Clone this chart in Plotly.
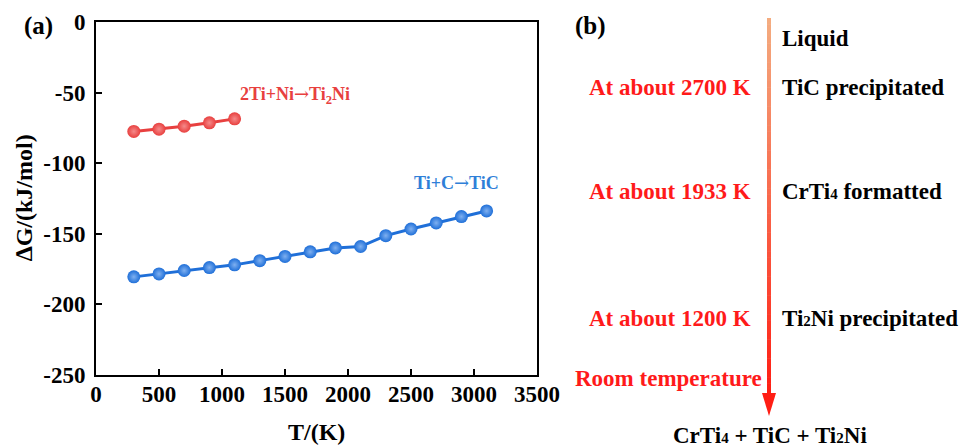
import plotly.graph_objects as go

# ---------------- data ----------------
T_ti2ni = [300, 500, 700, 900, 1100]
G_ti2ni = [-77.5, -75.9, -73.8, -71.4, -68.6]

T_tic = [300, 500, 700, 900, 1100, 1300, 1500, 1700, 1900, 2100, 2300, 2500, 2700, 2900, 3100]
G_tic = [-180.5, -178.4, -176.0, -173.9, -172.0, -169.0, -166.0, -162.8, -160.0, -159.0,
         -151.3, -146.6, -142.3, -137.8, -133.8]

x_ticks = [0, 500, 1000, 1500, 2000, 2500, 3000, 3500]
x_ticktext = ["0", "500", "1000", "1500", "2000", "2500", "3000", "3500"]
y_ticks = [0, -50, -100, -150, -200, -250]
y_ticktext = ["0", "-50", "-100", "-150", "-200", "-250"]

ARROW = "<span style='font-family:DejaVu Serif;font-weight:normal;font-size:18px'>→</span>"
label_ti2ni = "2Ti+Ni" + ARROW + "Ti<sub>2</sub>Ni"
label_tic = "Ti+C" + ARROW + "TiC"

# panel (b) texts
stage_temps = ["At about 2700 K", "At about 1933 K", "At about 1200 K"]
stage_events = ["TiC precipitated",
                "CrTi<span style='font-size:15px'>4</span> formatted",
                "Ti<span style='font-size:15px'>2</span>Ni precipitated"]
start_label = "Liquid"
end_left_label = "Room temperature"
final_label = ("CrTi<span style='font-size:15px'>4</span> + TiC + "
               "Ti<span style='font-size:15px'>2</span>Ni")

# ---------------- layout helpers ----------------
W, H = 962, 448
def px(x):
    return x / W
def py(y):
    return 1 - y / H

FONT = "Liberation Serif, Times New Roman, serif"
RED = "#e8403f"
BLUE = "#1f6fd8"

fig = go.Figure()

fig.add_trace(go.Scatter(
    x=T_ti2ni, y=G_ti2ni, mode="lines+markers",
    line=dict(color=RED, width=3),
    marker=dict(size=13, color=RED, gradient=dict(type="radial", color="#f58a8a")),
    showlegend=False))
fig.add_trace(go.Scatter(
    x=T_tic, y=G_tic, mode="lines+markers",
    line=dict(color=BLUE, width=3),
    marker=dict(size=13, color=BLUE, gradient=dict(type="radial", color="#7fb0f0")),
    showlegend=False))

axis_common = dict(
    showline=True, linecolor="black", linewidth=2, mirror=True,
    ticks="inside", ticklen=6, tickwidth=2, tickcolor="black",
    showgrid=False, zeroline=False, automargin=False,
    tickfont=dict(family=FONT, size=23, color="black", weight="bold"),
)

fig.update_layout(
    width=W, height=H,
    margin=dict(l=0, r=0, t=0, b=0, pad=0, autoexpand=False),
    paper_bgcolor="white", plot_bgcolor="white",
    font=dict(family=FONT, color="black"),
    xaxis=dict(domain=[px(96), px(537)], range=[0, 3500], tickvals=x_ticks,
               ticktext=x_ticktext, ticklabelstandoff=-3, **axis_common),
    yaxis=dict(domain=[py(375), py(22)], range=[-250, 0], tickvals=y_ticks,
               ticktext=y_ticktext, ticklabelstandoff=4, **axis_common),
)

ann = []
def add_text(text, x, y, size=22, color="black", xanchor="center", yanchor="middle", textangle=0):
    ann.append(dict(text=text, x=px(x), y=py(y), xref="paper", yref="paper",
                    xanchor=xanchor, yanchor=yanchor, showarrow=False, textangle=textangle,
                    font=dict(family=FONT, size=size, color=color, weight="bold")))

# panel labels
add_text("(a)", 38, 26, size=25)
add_text("(b)", 590, 26, size=25)

# axis titles
add_text("T/(K)", 316, 432, size=24)
add_text("∆G/(kJ/mol)", 24, 198, size=24, textangle=-90)

# series labels
add_text(label_ti2ni, 295, 95, size=18, color=RED)
add_text(label_tic, 456, 183, size=18, color="#2f7fd8")

# panel b
ARROW_X = 769
add_text(start_label, 780, 38, size=23, xanchor="left")
stage_y = [87, 191, 318]
for t, e, yy in zip(stage_temps, stage_events, stage_y):
    add_text(t, 753, yy, size=23, color="#ff1a1a", xanchor="right")
    add_text(e, 780, yy, size=23, xanchor="left")
add_text(end_left_label, 764, 378, size=23, color="#ff1a1a", xanchor="right")
add_text(final_label, 770, 435, size=23)

fig.update_layout(annotations=ann)

# gradient arrow shaft
shapes = []
top, bottom = 18, 396
n = 60
c0 = (244, 172, 128)
c1 = (255, 30, 20)
for i in range(n):
    f = i / (n - 1)
    y0 = top + (bottom - top) * i / n
    y1 = top + (bottom - top) * (i + 1) / n + 0.5
    r = int(c0[0] + (c1[0] - c0[0]) * f)
    g = int(c0[1] + (c1[1] - c0[1]) * f)
    b = int(c0[2] + (c1[2] - c0[2]) * f)
    shapes.append(dict(type="line", xref="paper", yref="paper",
                       x0=px(ARROW_X), x1=px(ARROW_X), y0=py(y0), y1=py(y1),
                       line=dict(color=f"rgb({r},{g},{b})", width=4)))
# arrow head
hx0, hx1, hy0, hy1 = ARROW_X - 7, ARROW_X + 7, 393, 416
shapes.append(dict(type="path", xref="paper", yref="paper",
                   path=f"M {px(hx0)} {py(hy0)} L {px(hx1)} {py(hy0)} L {px(ARROW_X)} {py(hy1)} Z",
                   fillcolor="rgb(255,30,20)", line=dict(width=0)))
fig.update_layout(shapes=shapes)

fig.write_html("out.html")
